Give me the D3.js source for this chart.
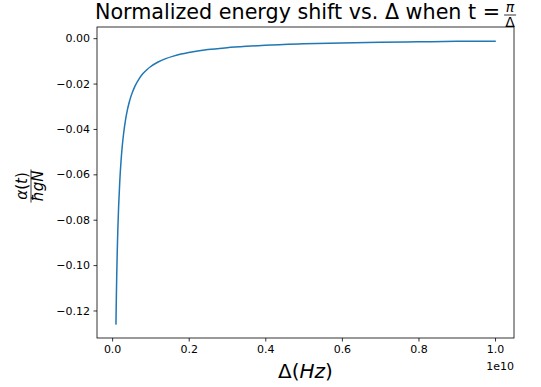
<!DOCTYPE html>
<html><head><meta charset="utf-8">
<script src="https://cdn.jsdelivr.net/npm/d3@7"></script>
<style>body{margin:0;background:#fff}svg{display:block}text{font-family:"DejaVu Sans",sans-serif}</style>
</head><body>
<svg id="c" width="541" height="387"></svg>
<script>
// Δ in Hz
const deltaHz = [1e8,1.1e8,1.2e8,1.3e8,1.4e8,1.5e8,1.7e8,2e8,2.3e8,2.6e8,3e8,3.5e8,4e8,4.5e8,5e8,6e8,7e8,8e8,9e8,1e9,1.2e9,1.4e9,1.6e9,1.8e9,2e9,2.5e9,3e9,3.5e9,4e9,5e9,6e9,7e9,8e9,9e9,1e10];
const shift = [-0.1259,-0.1145,-0.1049,-0.0969,-0.0899,-0.0839,-0.0741,-0.0630,-0.0548,-0.0484,-0.0420,-0.0360,-0.0315,-0.0280,-0.0252,-0.0210,-0.0180,-0.0157,-0.0140,-0.0126,-0.0105,-0.0090,-0.0079,-0.0070,-0.0063,-0.0050,-0.0042,-0.0036,-0.0031,-0.0025,-0.0021,-0.0018,-0.0016,-0.0014,-0.0013];
const xTicks = [0,0.2e10,0.4e10,0.6e10,0.8e10,1.0e10];
const xTickLabels = ["0.0","0.2","0.4","0.6","0.8","1.0"];
const yTicks = [0,-0.02,-0.04,-0.06,-0.08,-0.10,-0.12];
const yTickLabels = ["0.00","\u22120.02","\u22120.04","\u22120.06","\u22120.08","\u22120.10","\u22120.12"];

const svg = d3.select("#c");
const L=97, R=514, T=27, B=338;
const xMin=d3.min(deltaHz), xMax=d3.max(deltaHz), xm=(xMax-xMin)*0.05;
const yMin=d3.min(shift), yMax=d3.max(shift), ym=(yMax-yMin)*0.05;
const x = d3.scaleLinear().domain([xMin-xm,xMax+xm]).range([L,R]);
const y = d3.scaleLinear().domain([yMin-ym,yMax+ym]).range([B,T]);

const line = d3.line().x((d,i)=>x(deltaHz[i])).y(d=>y(d)).curve(d3.curveMonotoneX);
svg.append("path").attr("d",line(shift)).attr("fill","none").attr("stroke","#1f77b4").attr("stroke-width",1.5).attr("stroke-linecap","square");

const xa = svg.append("g").attr("transform",`translate(0,${B})`)
  .call(d3.axisBottom(x).tickValues(xTicks).tickFormat((d,i)=>xTickLabels[i]).tickSize(3.5).tickPadding(3.5));
const ya = svg.append("g").attr("transform",`translate(${L},0)`)
  .call(d3.axisLeft(y).tickValues(yTicks).tickFormat((d,i)=>yTickLabels[i]).tickSize(3.5).tickPadding(3.5));
[xa,ya].forEach(a=>{a.select(".domain").remove();a.selectAll("line").attr("stroke","#000").attr("stroke-width",0.8);
  a.selectAll("text").attr("font-size",11).attr("font-family","DejaVu Sans").attr("fill","#000");});
svg.append("rect").attr("x",L).attr("y",T).attr("width",R-L).attr("height",B-T).attr("fill","none").attr("stroke","#000").attr("stroke-width",0.8);

svg.append("text").attr("x",R).attr("y",370).attr("text-anchor","end").attr("font-size",11).text("1e10");

// x label
const xl = svg.append("text").attr("x",(L+R)/2).attr("y",378).attr("text-anchor","middle").attr("font-size",20);
xl.append("tspan").text("\u0394(");
xl.append("tspan").attr("font-style","italic").text("Hz");
xl.append("tspan").text(")");

// title
const tg = svg.append("g");
const tt = tg.append("text").attr("x",0).attr("y",19).attr("font-size",20.7).text("Normalized energy shift vs. \u0394 when t =");
const tw = tt.node().getComputedTextLength();
const fx = tw + 10;
tg.append("text").attr("x",fx).attr("y",12).attr("text-anchor","middle").attr("font-size",14).attr("font-style","italic").text("\u03c0");
tg.append("line").attr("x1",fx-6).attr("x2",fx+6).attr("y1",15).attr("y2",15).attr("stroke","#000").attr("stroke-width",0.8);
tg.append("text").attr("x",fx).attr("y",27).attr("text-anchor","middle").attr("font-size",14).text("\u0394");
const total = fx+6;
tg.attr("transform",`translate(${(L+R)/2-total/2},0)`);

// y label
const yg = svg.append("g").attr("transform","translate(31,186) rotate(-90)");
const num = yg.append("text").attr("x",0).attr("y",-4).attr("text-anchor","middle").attr("font-size",15);
num.append("tspan").attr("font-style","italic").text("\u03b1");
num.append("tspan").text("(");
num.append("tspan").attr("font-style","italic").text("t");
num.append("tspan").text(")");
const den = yg.append("text").attr("x",0).attr("y",12).attr("text-anchor","middle").attr("font-size",15).attr("font-style","italic").text("\u0127gN");
const dw = Math.max(den.node().getComputedTextLength(), num.node().getComputedTextLength());
yg.append("line").attr("x1",-dw/2-1).attr("x2",dw/2+1).attr("y1",0).attr("y2",0).attr("stroke","#000").attr("stroke-width",0.8);
</script>
</body></html>
